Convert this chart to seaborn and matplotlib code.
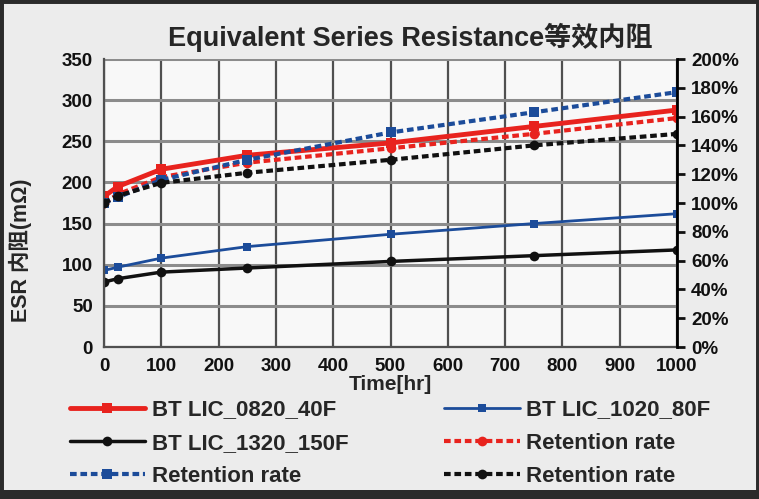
import pandas as pd
import seaborn as sns
import matplotlib.pyplot as plt
from matplotlib.patches import Rectangle
from matplotlib.ticker import PercentFormatter

# Data
hours = [0, 24, 100, 250, 500, 750, 1000]

# ESR values (mOhm), left axis
esr_0820 = [183, 195, 216, 233, 248, 268, 288]
esr_1020 = [93, 97, 108, 122, 137, 150, 162]
esr_1320 = [79, 83, 91, 96, 104, 111, 118]

# Retention rate (%), right axis
ret_0820 = [100, 106, 118, 128, 138, 148, 159]
ret_1020 = [100, 104, 116, 130, 149, 163, 177]
ret_1320 = [100, 105, 114, 121, 130, 140, 148]

labels = ["BT LIC_0820_40F", "BT LIC_1020_80F", "BT LIC_1320_150F"]
ret_label = "Retention rate"
title = "Equivalent Series Resistance等效内阻"

sns.set_style("white")
plt.rcParams["font.family"] = ["Liberation Sans", "Noto Sans CJK SC", "DejaVu Sans"]
plt.rcParams["font.weight"] = "bold"
plt.rcParams["axes.labelweight"] = "bold"

df = pd.DataFrame({"hours": hours,
                   "esr_0820": esr_0820, "esr_1020": esr_1020, "esr_1320": esr_1320,
                   "ret_0820": ret_0820, "ret_1020": ret_1020, "ret_1320": ret_1320})

fig = plt.figure(figsize=(7.59, 4.99), dpi=100, facecolor="#ececec")
ax = fig.add_axes([104 / 759, 152 / 499, 573 / 759, 288 / 499])
ax.set_facecolor("#f8f8f8")
ax2 = ax.twinx()

red = "#e8231e"
blue = "#1c4c9a"
black = "#111111"
dash = (0, (1.6, 0.9))

# ESR lines
sns.lineplot(data=df, x="hours", y="esr_0820", ax=ax, color=red, lw=3.5, marker="s",
             markersize=7, markeredgewidth=0, label=labels[0], legend=False)
sns.lineplot(data=df, x="hours", y="esr_1020", ax=ax, color=blue, lw=2, marker="s",
             markersize=6, markeredgewidth=0, label=labels[1], legend=False)
sns.lineplot(data=df, x="hours", y="esr_1320", ax=ax, color=black, lw=2.5, marker="o",
             markersize=7, markeredgewidth=0, label=labels[2], legend=False)

# retention lines
sns.lineplot(data=df, x="hours", y="ret_0820", ax=ax2, color=red, lw=3, ls=dash, marker="o",
             markersize=7, markeredgewidth=0, label=ret_label, legend=False)
sns.lineplot(data=df, x="hours", y="ret_1020", ax=ax2, color=blue, lw=3, ls=dash, marker="s",
             markersize=7, markeredgewidth=0, label=ret_label, legend=False)
sns.lineplot(data=df, x="hours", y="ret_1320", ax=ax2, color=black, lw=3, ls=dash, marker="o",
             markersize=7, markeredgewidth=0, label=ret_label, legend=False)

ax.set_xlim(0, 1000)
ax.set_ylim(0, 350)
ax.set_xticks(range(0, 1001, 100))
ax.set_yticks(range(0, 351, 50))
ax2.set_ylim(0, 200)
ax2.set_yticks(range(0, 201, 20))
ax2.yaxis.set_major_formatter(PercentFormatter(decimals=0))

ax.grid(True, axis="x", color="#505050", lw=1.6)
ax.grid(True, axis="y", color="#8c8c8c", lw=2.2)
ax.set_axisbelow(True)
for s in ["top", "right"]:
    ax.spines[s].set_visible(False)
ax.spines["left"].set_color("#505050")
ax.spines["bottom"].set_color("#505050")
ax.spines["left"].set_linewidth(1.6)
ax.spines["bottom"].set_linewidth(1.6)
for s in ["top", "left", "bottom"]:
    ax2.spines[s].set_visible(False)
ax2.spines["right"].set_color("black")
ax2.spines["right"].set_linewidth(2)

ax.tick_params(axis="both", length=0, labelsize=13.5, pad=8, colors="#111111")
ax2.tick_params(axis="y", length=6, width=2, direction="out", labelsize=13.5, pad=4,
                colors="#111111")

ax.set_xlabel("Time[hr]", fontsize=15, fontweight="bold", labelpad=0)
ax.set_ylabel("ESR 内阻(mΩ)", fontsize=15.5, fontweight="bold")
ax.yaxis.set_label_coords(-0.125, 0.337)
ax2.set_ylabel("")
fig.text(0.54, 0.925, title, ha="center", va="center", fontsize=19.5, fontweight="bold")

# legend: column-wise fill, matched to the reference order
h1, l1 = ax.get_legend_handles_labels()
h2, l2 = ax2.get_legend_handles_labels()
handles = [h1[0], h1[2], h2[1], h1[1], h2[0], h2[2]]
names = [l1[0], l1[2], l2[1], l1[1], l2[0], l2[2]]
fig.legend(handles, names, loc="center", bbox_to_anchor=(0.514, 0.112), ncol=2,
           frameon=False, fontsize=16, handlelength=3.4, columnspacing=4.3,
           labelspacing=0.55, handletextpad=0.3)

# dark screenshot border
fig.patches.append(Rectangle((0, 0), 1, 1, transform=fig.transFigure, fill=False,
                             edgecolor="#2b2b2b", lw=5, zorder=10))
fig.patches.append(Rectangle((0, 0), 1, 9 / 499, transform=fig.transFigure,
                             facecolor="#2b2b2b", edgecolor="none", zorder=10))

fig.savefig("out.png", dpi=100, facecolor=fig.get_facecolor())
